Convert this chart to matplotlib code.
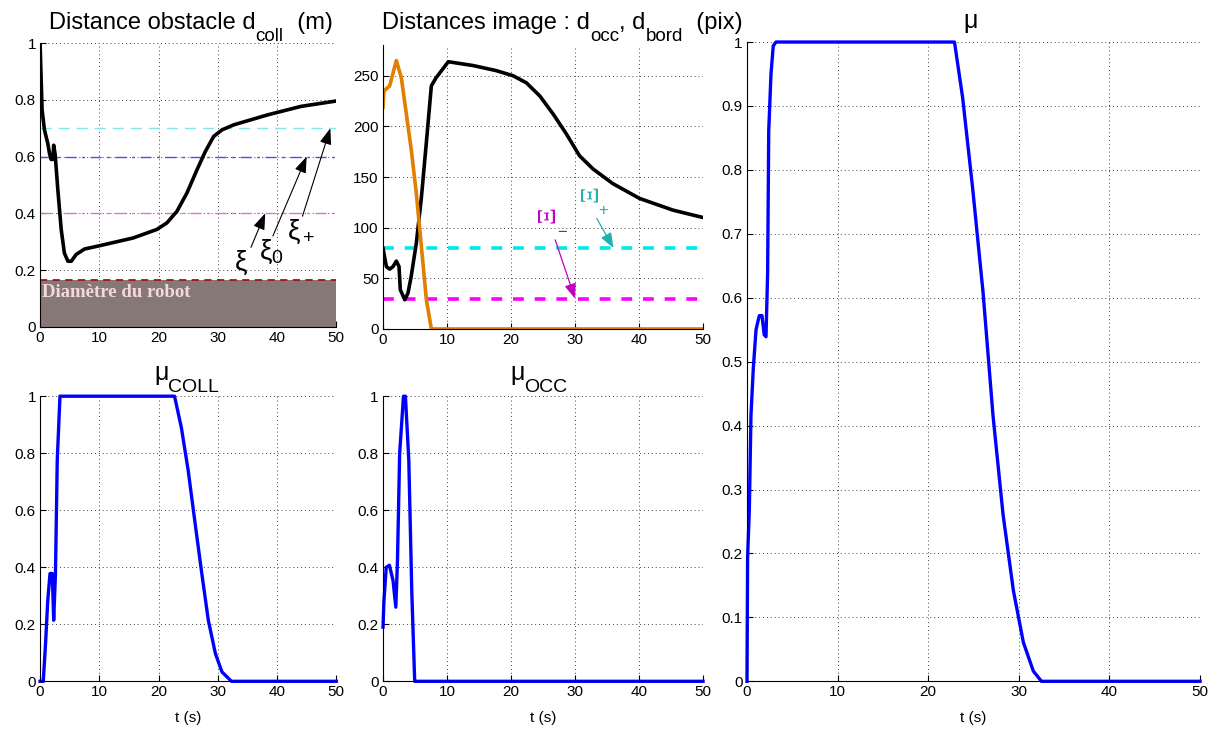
import matplotlib
matplotlib.use("Agg")
import matplotlib.pyplot as plt
from matplotlib.patches import Rectangle

plt.rcParams["font.family"] = ["Liberation Sans", "DejaVu Sans"]
plt.rcParams["mathtext.fontset"] = "custom"
plt.rcParams["mathtext.rm"] = "Liberation Sans"
plt.rcParams["mathtext.it"] = "Liberation Sans:italic"
plt.rcParams["mathtext.sf"] = "Liberation Sans"

W, H = 1214, 731

# d_coll (m)
t_coll = [0, 0.34, 0.74, 1.3, 1.6, 1.87, 2.15, 2.3, 2.55, 3.0, 3.57, 4.1, 4.7, 5.27,
          6.1, 7.5, 10.1, 15.7, 19.7, 21.4, 23.1, 24.8, 26.5, 27.9, 29.3, 30.7,
          32.7, 38.4, 44.05, 50]
d_coll = [1.0, 0.765, 0.694, 0.647, 0.61, 0.59, 0.59, 0.64, 0.607, 0.483, 0.343, 0.26,
          0.231, 0.231, 0.255, 0.274, 0.286, 0.313, 0.343, 0.366, 0.407, 0.472, 0.554,
          0.618, 0.671, 0.694, 0.712, 0.747, 0.777, 0.796]
xi_plus, xi_0, xi_minus, robot_diam = 0.7, 0.6, 0.4, 0.165

# image distances (pix)
t_occ = [0, 0.52, 1.04, 1.56, 2.08, 2.5, 2.7, 3.4, 3.9, 4.4, 5.2, 6.0, 6.8, 7.55, 8.3,
         10.2, 14.1, 17.7, 20.3, 22.4, 24.5, 26.6, 28.6, 30.7, 32.8, 35.9, 40.1, 45.3, 50]
d_occ = [79.6, 61.6, 59, 61.6, 67, 61.6, 38.7, 28.8, 35.4, 51.8, 84.5, 130, 186, 240, 248,
         263.8, 260, 255, 250, 243, 230, 212, 193, 171, 158, 143.5, 128.8, 117.3, 110]
t_bord = [0, 0.15, 1.04, 2.08, 2.86, 3.65, 4.43, 5.2, 6.0, 6.77, 7.55, 50]
d_bord = [219, 235, 240, 265, 248, 212, 176, 134, 81, 29, 0, 0]
Xi_plus, Xi_minus = 80, 30

# weights
t_mucoll = [0, 0.54, 0.92, 1.3, 1.68, 2.06, 2.3, 2.6, 2.9, 3.36, 22.7, 23.85, 25, 26.1,
            27.3, 28.4, 29.6, 30.7, 32.3, 50]
mu_coll = [0, 0, 0.13, 0.284, 0.378, 0.378, 0.214, 0.378, 0.775, 1, 1, 0.89, 0.74, 0.565,
           0.378, 0.214, 0.097, 0.033, 0, 0]
t_muocc = [0, 0.14, 0.5, 1.0, 1.56, 2.0, 2.26, 2.6, 3.2, 3.5, 4.03, 4.5, 4.95, 50]
mu_occ = [0.19, 0.28, 0.4, 0.407, 0.354, 0.26, 0.425, 0.8, 1, 1, 0.775, 0.31, 0, 0]
t_mu = [0, 0.07, 0.26, 0.44, 0.7, 1.0, 1.36, 1.66, 1.9, 2.1, 2.28, 2.4, 2.65, 2.9, 3.2,
        22.9, 23.8, 24.9, 26.05, 27.15, 28.26, 29.4, 30.5, 31.6, 32.5, 50]
mu = [0, 0.194, 0.268, 0.416, 0.49, 0.55, 0.572, 0.572, 0.542, 0.539, 0.639, 0.861, 0.95,
      0.994, 1, 1, 0.913, 0.772, 0.609, 0.416, 0.261, 0.142, 0.061, 0.016, 0, 0]

x_ticks = [0, 10, 20, 30, 40, 50]
unit_ticks = ["0", "0.2", "0.4", "0.6", "0.8", "1"]


def style(ax, yticks, ylabels=None):
    ax.set_xlim(0, 50)
    ax.set_xticks(x_ticks)
    ax.set_yticks(yticks)
    if ylabels is not None:
        ax.set_yticklabels(ylabels)
    ax.grid(True, linestyle=(0, (1, 3)), color="0.25", linewidth=0.7)
    ax.spines["top"].set_visible(False)
    ax.spines["right"].set_visible(False)
    ax.tick_params(direction="in", labelsize=11, length=4, pad=3)
    ax.set_axisbelow(True)


def title_chain(ax, x_px, y_px, pieces):
    # pieces: (text, fontsize, vertical offset in points), drawn left to right
    prev = ax.text(x_px / W, 1 - y_px / H, pieces[0][0], fontsize=pieces[0][1],
                   transform=ax.figure.transFigure, ha="left", va="bottom")
    prev_dy = pieces[0][2]
    for txt, size, dy in pieces[1:]:
        prev = ax.annotate(txt, xy=(1, 0), xycoords=prev, xytext=(0, dy - prev_dy),
                           textcoords="offset points", fontsize=size,
                           ha="left", va="bottom", annotation_clip=False)
        prev_dy = dy


fig = plt.figure(figsize=(12.14, 7.31), dpi=100)
ax1 = fig.add_axes([0.033, 0.553, 0.244, 0.388])
ax2 = fig.add_axes([0.3155, 0.55, 0.2636, 0.388])
ax3 = fig.add_axes([0.033, 0.068, 0.244, 0.390])
ax4 = fig.add_axes([0.3155, 0.068, 0.2636, 0.390])
ax5 = fig.add_axes([0.6153, 0.068, 0.3732, 0.8745])

# --- d_coll
ax1.add_patch(Rectangle((0, 0), 50, robot_diam, facecolor="#877878", edgecolor="none", zorder=1))
ax1.axhline(robot_diam, color="#a01414", linestyle=(0, (4, 3)), linewidth=1.3, zorder=2)
ax1.axhline(xi_plus, color="#80e8e8", linestyle=(0, (8, 5)), linewidth=1.0)
ax1.axhline(xi_0, color="#5050e0", linestyle=(0, (8, 4, 2, 4)), linewidth=1.0)
ax1.axhline(xi_minus, color="#e070e0", linestyle=(0, (8, 4, 2, 4)), linewidth=1.0)
ax1.plot(t_coll, d_coll, color="black", linewidth=2.6, zorder=3)
ax1.text(0.3, 0.105, "Diamètre du robot", family="Liberation Serif", weight="bold",
         color="#f5d8d8", fontsize=13.5, va="baseline", zorder=4)
arrow = dict(arrowstyle="-|>,head_length=0.55,head_width=0.2", color="black", lw=0.8,
             shrinkA=0, shrinkB=0, mutation_scale=18)
ax1.text(32.8, 0.275, r"$\mathrm{\xi}$", fontsize=20, va="top", ha="left")
ax1.annotate("", xy=(38, xi_minus), xytext=(35.6, 0.28), arrowprops=arrow)
ax1.text(37.0, 0.315, r"$\mathrm{\xi}_0$", fontsize=20, va="top", ha="left")
ax1.annotate("", xy=(45, xi_0), xytext=(39.3, 0.32), arrowprops=arrow)
ax1.text(41.6, 0.385, r"$\mathrm{\xi}_+$", fontsize=20, va="top", ha="left")
ax1.annotate("", xy=(49, xi_plus), xytext=(44.3, 0.39), arrowprops=arrow)
style(ax1, [0, 0.2, 0.4, 0.6, 0.8, 1], unit_ticks)
ax1.set_ylim(0, 1)
title_chain(ax1, 49, 34, [("Distance obstacle d", 17, 0), ("coll", 13.5, -8),
                          ("  (m)", 17, 0)])

# --- image distances
ax2.axhline(Xi_plus, color="#00e8e8", linestyle=(0, (3, 3)), linewidth=2.6)
ax2.axhline(Xi_minus, color="#ff00ff", linestyle=(0, (3, 3)), linewidth=2.6)
ax2.plot(t_occ, d_occ, color="black", linewidth=2.6)
ax2.plot(t_bord, d_bord, color="#e08000", linewidth=2.6)
ax2.annotate("", xy=(30, Xi_minus), xytext=(26.9, 88),
             arrowprops=dict(arrowstyle="-|>,head_length=0.9,head_width=0.35",
                             color="#c000c0", lw=0.9, shrinkA=0, shrinkB=0))
ax2.annotate("", xy=(36, Xi_plus), xytext=(33.4, 109),
             arrowprops=dict(arrowstyle="-|>,head_length=0.9,head_width=0.35",
                             color="#20b0b0", lw=0.9, shrinkA=0, shrinkB=0))
ax2.text(25.9, 113, "Ξ", rotation=90, color="#c000c0", fontsize=19,
         family="Liberation Serif", ha="center", va="center")
ax2.text(27.9, 95, "−", color="#c000c0", fontsize=12, ha="center", va="center")
ax2.text(32.6, 134, "Ξ", rotation=90, color="#20b0b0", fontsize=19,
         family="Liberation Serif", ha="center", va="center")
ax2.text(34.4, 117, "+", color="#20b0b0", fontsize=12, ha="center", va="center")
style(ax2, [0, 50, 100, 150, 200, 250])
ax2.set_ylim(0, 280)
title_chain(ax2, 382, 34, [("Distances image : d", 17, 0), ("occ", 13.5, -8),
                           (", d", 17, 0), ("bord", 13.5, -8), ("  (pix)", 17, 0)])

# --- mu_coll
ax3.plot(t_mucoll, mu_coll, color="blue", linewidth=2.4, clip_on=False)
style(ax3, [0, 0.2, 0.4, 0.6, 0.8, 1], unit_ticks)
ax3.set_ylim(0, 1)
title_chain(ax3, 154, 385, [("μ", 18, 0), ("COLL", 14, -8)])
ax3.set_xlabel("t (s)", fontsize=11, labelpad=8)

# --- mu_occ
ax4.plot(t_muocc, mu_occ, color="blue", linewidth=2.4, clip_on=False)
style(ax4, [0, 0.2, 0.4, 0.6, 0.8, 1], unit_ticks)
ax4.set_ylim(0, 1)
title_chain(ax4, 510, 385, [("μ", 18, 0), ("OCC", 14, -8)])
ax4.set_xlabel("t (s)", fontsize=11, labelpad=8)

# --- mu
ax5.plot(t_mu, mu, color="blue", linewidth=2.4, clip_on=False)
style(ax5, [i / 10 for i in range(11)],
      ["0", "0.1", "0.2", "0.3", "0.4", "0.5", "0.6", "0.7", "0.8", "0.9", "1"])
ax5.set_ylim(0, 1)
title_chain(ax5, 963, 33, [("μ", 18, 0)])
ax5.set_xlabel("t (s)", fontsize=11, labelpad=8)

fig.savefig("out.png", dpi=100)
